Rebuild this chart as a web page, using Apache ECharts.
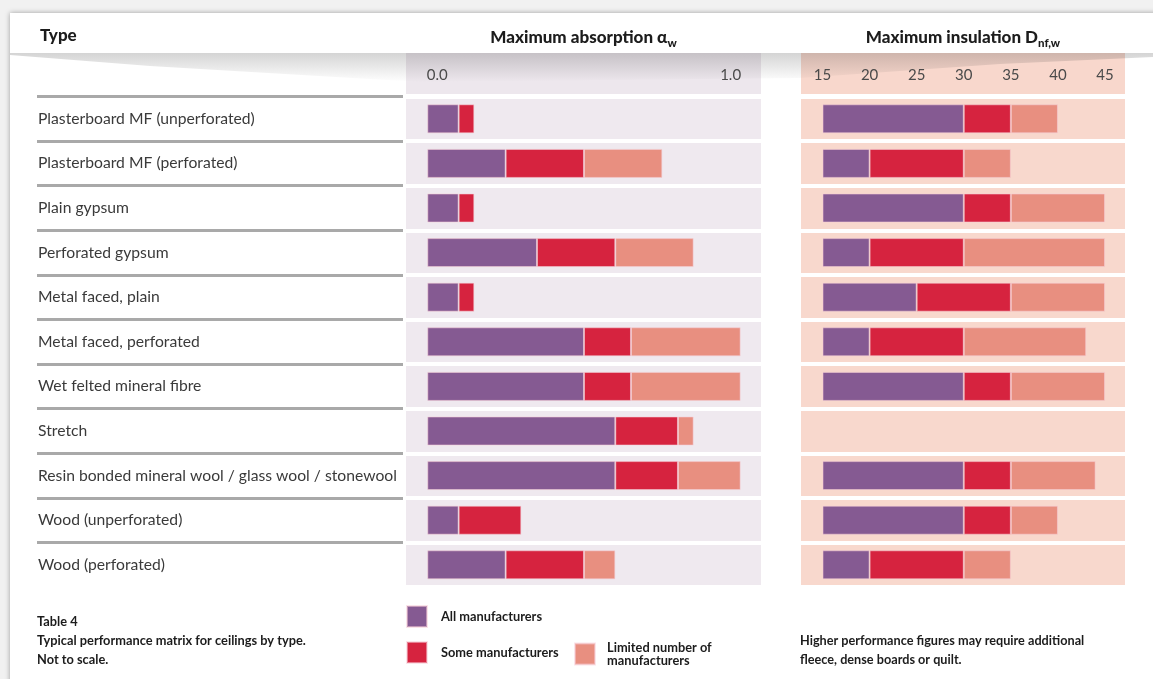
<!DOCTYPE html>
<html>
<head>
<meta charset="utf-8">
<script src="https://cdn.jsdelivr.net/npm/echarts@6/dist/echarts.min.js"></script>
<style>
  html, body { margin: 0; padding: 0; background: #fff; }
  #chart { width: 1153px; height: 679px; }
</style>
</head>
<body>
<div id="chart"></div>
<script>
// Ceiling types, one row each (top to bottom)
const categories = [
  'Plasterboard MF (unperforated)',
  'Plasterboard MF (perforated)',
  'Plain gypsum',
  'Perforated gypsum',
  'Metal faced, plain',
  'Metal faced, perforated',
  'Wet felted mineral fibre',
  'Stretch',
  'Resin bonded mineral wool / glass wool / stonewool',
  'Wood (unperforated)',
  'Wood (perforated)'
];

// Maximum absorption αw reached by all / some / a limited number of manufacturers
const absorptionAll     = [0.10, 0.25, 0.10, 0.35, 0.10, 0.50, 0.50, 0.60, 0.60, 0.10, 0.25];
const absorptionSome    = [0.15, 0.50, 0.15, 0.60, 0.15, 0.65, 0.65, 0.80, 0.80, 0.30, 0.50];
const absorptionLimited = [null, 0.75, null, 0.85, null, 1.00, 1.00, 0.85, 1.00, null, 0.60];

// Maximum insulation Dnf,w (dB) reached by all / some / a limited number of manufacturers
const insulationAll     = [30, 20, 30, 20, 25, 20, 30, null, 30, 30, 20];
const insulationSome    = [35, 30, 35, 30, 35, 30, 35, null, 35, 35, 30];
const insulationLimited = [40, 35, 45, 45, 45, 43, 45, null, 44, 40, 35];

// Scale start and tick labels of each panel
const absorptionStart = 0;
const absorptionTicks = [0, 1];
const insulationStart = 15;
const insulationTicks = [15, 20, 25, 30, 35, 40, 45];

const seriesNames = ['All manufacturers', 'Some manufacturers', 'Limited number of manufacturers'];
const colors = ['#855a92', '#d6233f', '#e88f80'];

const FONT = 'Lato, "Open Sans", sans-serif';
const ROW_TOP = 96.5;
const ROW_HEIGHT = 490.6;
const BAR_WIDTH = 29;

// Turn upper bounds into stacked segment lengths
function segments(lower, upper) {
  return upper.map((u, i) => {
    if (u == null) return '-';
    const l = lower == null ? null : lower[i];
    return +(u - (l == null ? 0 : l)).toFixed(4);
  });
}

function panelSeries(axisIndex, stack, start, all, some, limited) {
  const list = [];
  if (start !== 0) {
    // transparent spacer so that the visible stack starts at the scale start
    list.push({
      type: 'bar', stack, xAxisIndex: axisIndex, yAxisIndex: axisIndex,
      barWidth: BAR_WIDTH, silent: true,
      itemStyle: { color: 'rgba(0,0,0,0)' },
      data: all.map(v => (v == null ? '-' : start))
    });
  }
  const baseAll = all.map(v => (v == null ? null : start));
  const parts = [
    segments(baseAll, all),
    segments(all, some),
    segments(some, limited)
  ];
  parts.forEach((data, k) => {
    list.push({
      name: seriesNames[k],
      type: 'bar', stack, xAxisIndex: axisIndex, yAxisIndex: axisIndex,
      barWidth: BAR_WIDTH,
      itemStyle: { color: colors[k], borderColor: 'rgba(245,205,215,0.55)', borderWidth: 1 },
      emphasis: { disabled: true },
      data
    });
  });
  return list;
}

function bandAxis(gridIndex, color) {
  return {
    type: 'category', gridIndex, inverse: true, data: categories,
    axisLine: { show: false }, axisTick: { show: false }, axisLabel: { show: false },
    splitArea: { show: true, areaStyle: { color: [color] } },
    splitLine: { show: true, lineStyle: { color: '#ffffff', width: 4 } },
    z: 1
  };
}

const titleRich = {
  main: { fontFamily: FONT, fontSize: 17, fontWeight: 900, color: '#1c1c1c', lineHeight: 20, verticalAlign: 'top' },
  sub: { fontFamily: FONT, fontSize: 11.5, fontWeight: 900, color: '#1c1c1c', lineHeight: 11, verticalAlign: 'bottom' }
};

function legendBox(name, left, top, padLeft, text) {
  return {
    data: [name], left, top, orient: 'vertical',
    icon: 'rect', itemWidth: 20, itemHeight: 21, padding: 0,
    selectedMode: false,
    formatter: () => text,
    textStyle: { fontFamily: FONT, fontSize: 12.8, fontWeight: 'bold', color: '#1c1c1c', lineHeight: 13, padding: [0, 0, 0, padLeft] }
  };
}

const chart = echarts.init(document.getElementById('chart'), null, { renderer: 'canvas' });

chart.setOption({
  backgroundColor: '#f1f1f1',
  animation: false,
  graphic: [
    { type: 'rect', z: -20, shape: { x: 10, y: 13, width: 1160, height: 700 },
      style: { fill: '#ffffff', shadowBlur: 5, shadowColor: 'rgba(0,0,0,0.35)', shadowOffsetX: 0, shadowOffsetY: 0 } },
    { type: 'rect', z: -5, shape: { x: 406, y: 53, width: 355, height: 41 }, style: { fill: '#ede7ed' } },
    { type: 'rect', z: -5, shape: { x: 801, y: 53, width: 324, height: 41 }, style: { fill: '#f8d7cc' } },
    { type: 'polygon', z: 5, silent: true,
      shape: { points: [[10, 53], [1153, 53], [1153, 57], [1000, 64], [800, 78], [420, 82], [150, 66], [10, 55]] },
      style: { fill: new echarts.graphic.LinearGradient(0, 0, 0, 1, [
        { offset: 0, color: 'rgba(60,60,60,0.22)' },
        { offset: 1, color: 'rgba(60,60,60,0)' }
      ]) } },
    { type: 'text', z: 10, x: 40, y: 27,
      style: { text: 'Type', font: '900 17px ' + FONT, fill: '#1c1c1c' } },
    { type: 'text', z: 10, x: 37, y: 612,
      style: { text: 'Table 4\nTypical performance matrix for ceilings by type.\nNot to scale.',
        font: 'bold 12.8px ' + FONT, fill: '#1c1c1c', lineHeight: 19 } },
    { type: 'text', z: 10, x: 800, y: 631,
      style: { text: 'Higher performance figures may require additional\nfleece, dense boards or quilt.',
        font: 'bold 12.7px ' + FONT, fill: '#1c1c1c', lineHeight: 19 } }
  ],
  legend: [
    legendBox(seriesNames[0], 406, 605, 9, 'All manufacturers'),
    legendBox(seriesNames[1], 406, 641, 9, 'Some manufacturers'),
    legendBox(seriesNames[2], 574, 641, 7, 'Limited number of\nmanufacturers')
  ],
  grid: [
    { left: 406, top: ROW_TOP, width: 355, height: ROW_HEIGHT },
    { left: 801, top: ROW_TOP, width: 324, height: ROW_HEIGHT },
    { left: 37, top: ROW_TOP, width: 366, height: ROW_HEIGHT }
  ],
  xAxis: [
    {
      type: 'value', gridIndex: 0, position: 'top', min: -0.068, max: 1.065,
      axisLine: { show: false }, axisTick: { show: false }, splitLine: { show: false },
      axisLabel: {
        customValues: absorptionTicks, margin: 14,
        formatter: v => (v === absorptionStart ? '{l|' + v.toFixed(1) + '}' : '{r|' + v.toFixed(1) + '}'),
        rich: {
          l: { fontFamily: FONT, fontSize: 15, color: '#4a4a4a', padding: [0, 0, 0, 20] },
          r: { fontFamily: FONT, fontSize: 15, color: '#4a4a4a', padding: [0, 20, 0, 0] }
        }
      },
      name: '{main|Maximum absorption α}{sub|w}', nameLocation: 'middle', nameGap: 47,
      nameTextStyle: { rich: titleRich },
      z: 20
    },
    {
      type: 'value', gridIndex: 1, position: 'top', min: 12.717, max: 47.12,
      axisLine: { show: false }, axisTick: { show: false }, splitLine: { show: false },
      axisLabel: {
        customValues: insulationTicks, margin: 14,
        fontFamily: FONT, fontSize: 15, color: '#4a4a4a'
      },
      name: '{main|Maximum insulation D}{sub|nf,w}', nameLocation: 'middle', nameGap: 47,
      nameTextStyle: { rich: titleRich },
      z: 20
    },
    { type: 'value', gridIndex: 2, show: false }
  ],
  yAxis: [
    bandAxis(0, '#efe9ef'),
    bandAxis(1, '#f8d8cd'),
    {
      type: 'category', gridIndex: 2, inverse: true, data: categories,
      axisLine: { show: false }, axisTick: { show: false },
      axisLabel: { inside: true, align: 'left', margin: 1, fontFamily: FONT, fontSize: 15.7, color: '#3a3a3a' },
      splitLine: { show: true, showMaxLine: false, lineStyle: { color: '#a9a9a9', width: 3 } }
    }
  ],
  series: [
    ...panelSeries(0, 'absorption', absorptionStart, absorptionAll, absorptionSome, absorptionLimited),
    ...panelSeries(1, 'insulation', insulationStart, insulationAll, insulationSome, insulationLimited)
  ]
});
</script>
</body>
</html>
